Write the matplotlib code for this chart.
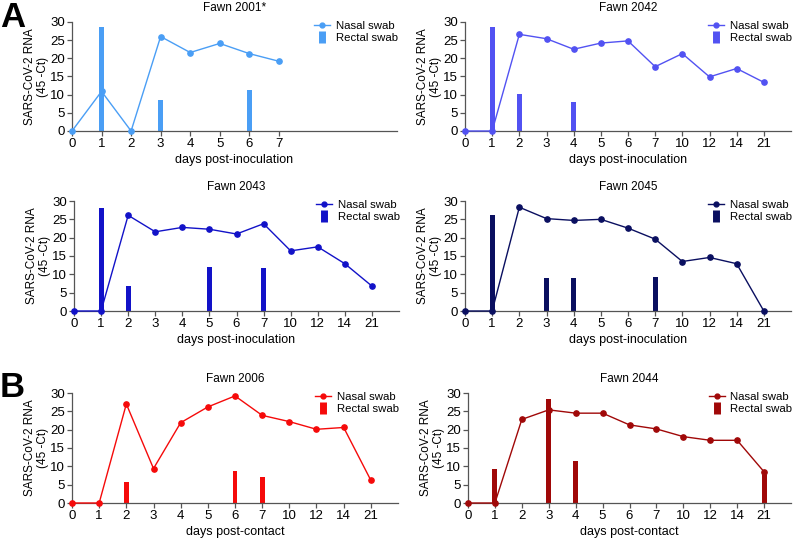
import matplotlib
matplotlib.use("Agg")
import matplotlib.pyplot as plt
from matplotlib.lines import Line2D

plt.rcParams['font.family'] = ['Liberation Sans', 'DejaVu Sans']

# sampling days (categorical x axis)
days_2001 = ["0", "1", "2", "3", "4", "5", "6", "7"]
days_full = ["0", "1", "2", "3", "4", "5", "6", "7", "10", "12", "14", "21"]

# nasal swab values, 45 - Ct
nasal_2001 = [0, 10.9, 0, 26.0, 21.6, 24.1, 21.3, 19.2]
nasal_2042 = [0, 0, 26.6, 25.4, 22.5, 24.2, 24.8, 17.7, 21.3, 14.9, 17.2, 13.4]
nasal_2043 = [0, 0, 26.1, 21.6, 22.8, 22.3, 21.0, 23.8, 16.4, 17.5, 12.9, 6.8]
nasal_2045 = [0, 0, 28.3, 25.2, 24.7, 25.0, 22.6, 19.6, 13.5, 14.6, 12.9, 0]
nasal_2006 = [0, 0, 27.0, 9.4, 21.9, 26.2, 29.2, 23.9, 22.2, 20.1, 20.6, 6.2]
nasal_2044 = [0, 0, 22.8, 25.4, 24.5, 24.5, 21.3, 20.2, 18.1, 17.1, 17.1, 8.5]

# rectal swab positives (day label, value)
rectal_2001_days = ["1", "3", "6"]
rectal_2001 = [28.7, 8.6, 11.2]
rectal_2042_days = ["1", "2", "4"]
rectal_2042 = [28.7, 10.2, 8.1]
rectal_2043_days = ["1", "2", "5", "7"]
rectal_2043 = [28.0, 6.8, 11.9, 11.6]
rectal_2045_days = ["1", "3", "4", "7"]
rectal_2045 = [26.1, 8.9, 8.9, 9.4]
rectal_2006_days = ["2", "6", "7"]
rectal_2006 = [5.7, 8.6, 7.1]
rectal_2044_days = ["1", "3", "4", "21"]
rectal_2044 = [9.3, 28.4, 11.5, 7.7]

W, H = 800, 542
fig = plt.figure(figsize=(W / 100, H / 100), dpi=100)

AXCOL = '#555555'


def make_axes(x0, x1, ytop, ybot):
    return fig.add_axes([x0 / W, 1 - ybot / H, (x1 - x0) / W, (ybot - ytop) / H])


def panel(ax, title, days, nasal, rdays, rvals, color, xlabel, xmax):
    xs = list(range(len(days)))
    rx = [days.index(d) for d in rdays]
    ax.bar(rx, rvals, width=0.18, color=color, zorder=2)
    ax.plot(xs, nasal, '-o', color=color, lw=1.0, ms=3.8, zorder=3, clip_on=False)
    ax.set_xlim(0, xmax)
    ax.set_ylim(0, 30)
    ax.set_xticks(xs)
    ax.set_xticklabels(days)
    ax.set_yticks(range(0, 31, 5))
    for s in ['top', 'right']:
        ax.spines[s].set_visible(False)
    for s in ['left', 'bottom']:
        ax.spines[s].set_color(AXCOL)
        ax.spines[s].set_linewidth(0.9)
    ax.tick_params(colors=AXCOL, labelcolor='black', labelsize=9.5, length=3.5,
                   width=0.9, pad=1.5)
    ax.set_title(title, fontsize=8.5, pad=8)
    ax.set_xlabel(xlabel, fontsize=9, labelpad=3)
    ax.set_ylabel("SARS-CoV-2 RNA\n(45 -Ct)", fontsize=8.5, labelpad=1, linespacing=1.05)
    handles = [Line2D([], [], color=color, marker='o', lw=1.0, ms=3.5),
               Line2D([], [], color=color, marker='|', ls='none', ms=9, mew=5)]
    ax.legend(handles, ["Nasal swab", "Rectal swab"], loc='upper left',
              bbox_to_anchor=(0.745, 1.01), frameon=False, fontsize=8.2,
              handlelength=1.4, handletextpad=0.5, labelspacing=0.15,
              borderaxespad=0, borderpad=0)


panel(make_axes(72, 397, 22, 131), "Fawn 2001*", days_2001, nasal_2001,
      rectal_2001_days, rectal_2001, '#4a9ef5', "days post-inoculation", 11)
panel(make_axes(465, 791, 22, 131), "Fawn 2042", days_full, nasal_2042,
      rectal_2042_days, rectal_2042, '#5252f2', "days post-inoculation", 12)
panel(make_axes(74, 399, 201, 311), "Fawn 2043", days_full, nasal_2043,
      rectal_2043_days, rectal_2043, '#1212c8', "days post-inoculation", 12)
panel(make_axes(465, 791, 201, 311), "Fawn 2045", days_full, nasal_2045,
      rectal_2045_days, rectal_2045, '#0a0f60', "days post-inoculation", 12)
panel(make_axes(72, 398, 393, 503), "Fawn 2006", days_full, nasal_2006,
      rectal_2006_days, rectal_2006, '#f50a0a', "days post-contact", 12)
panel(make_axes(468, 791, 393, 503), "Fawn 2044", days_full, nasal_2044,
      rectal_2044_days, rectal_2044, '#a00808', "days post-contact", 12)

fig.text(0 / W, 1 - 1 / H, "A", fontsize=25, fontweight='bold', va='top', ha='left')
fig.text(0 / W, 1 - 371 / H, "B", fontsize=25, fontweight='bold', va='top', ha='left')

fig.savefig("out.png", dpi=100)
